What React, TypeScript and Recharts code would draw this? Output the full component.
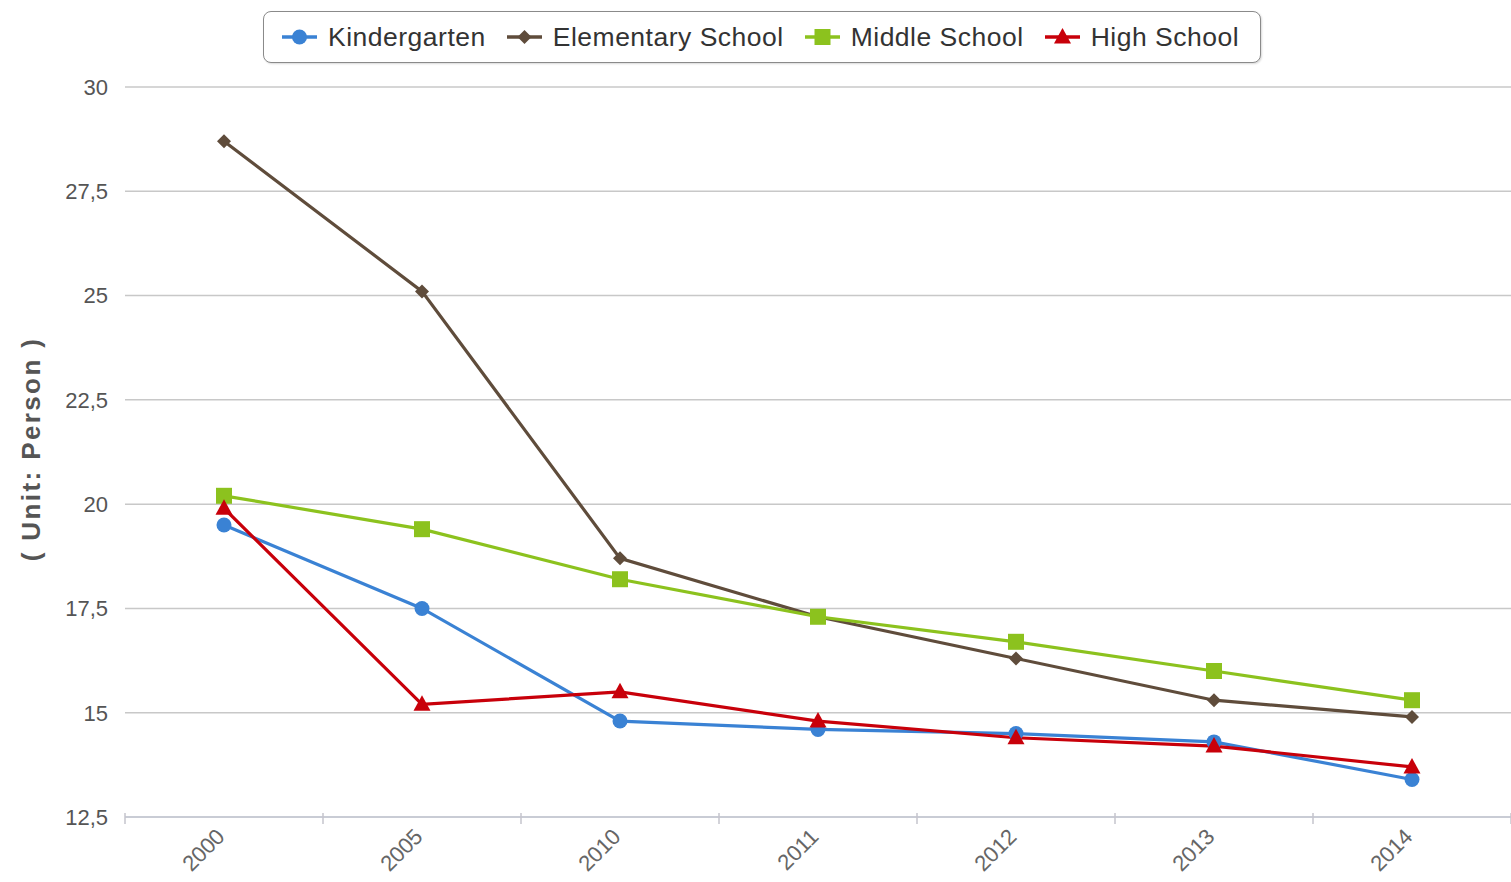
import { CartesianGrid, Legend, Line, LineChart, XAxis, YAxis } from 'recharts';

const years = ['2000', '2005', '2010', '2011', '2012', '2013', '2014'];
const kindergarten = [19.5, 17.5, 14.8, 14.6, 14.5, 14.3, 13.4];
const elementary = [28.7, 25.1, 18.7, 17.3, 16.3, 15.3, 14.9];
const middle = [20.2, 19.4, 18.2, 17.3, 16.7, 16.0, 15.3];
const high = [19.9, 15.2, 15.5, 14.8, 14.4, 14.2, 13.7];
const yTicks = [12.5, 15, 17.5, 20, 22.5, 25, 27.5, 30];

type Shape = 'circle' | 'diamond' | 'square' | 'triangle';

const series: { key: string; name: string; color: string; shape: Shape }[] = [
  { key: 'kindergarten', name: 'Kindergarten', color: '#3a82d4', shape: 'circle' },
  { key: 'elementary', name: 'Elementary School', color: '#5f4c3b', shape: 'diamond' },
  { key: 'middle', name: 'Middle School', color: '#8cc21e', shape: 'square' },
  { key: 'high', name: 'High School', color: '#c8000a', shape: 'triangle' },
];

const rows = years.map((year, i) => ({
  year,
  kindergarten: kindergarten[i],
  elementary: elementary[i],
  middle: middle[i],
  high: high[i],
}));

const FONT = "'Liberation Sans', Arial, sans-serif";
const TEXT = '#555';
const TICK_MARK = '#c4c4cc';

function Marker({ shape, cx, cy, color }: { shape: Shape; cx: number; cy: number; color: string }) {
  if (shape === 'circle') return <circle cx={cx} cy={cy} r={7.5} fill={color} />;
  if (shape === 'square') return <rect x={cx - 8} y={cy - 8} width={16} height={16} fill={color} />;
  if (shape === 'diamond') {
    const d = 7;
    return <polygon points={`${cx},${cy - d} ${cx + d},${cy} ${cx},${cy + d} ${cx - d},${cy}`} fill={color} />;
  }
  return <polygon points={`${cx},${cy - 9} ${cx + 8.5},${cy + 6.5} ${cx - 8.5},${cy + 6.5}`} fill={color} />;
}

// year label plus a tick mark on the band edges (Highcharts-style "between" ticks)
function YearTick({ x, y, payload, index, width, visibleTicksCount }: any) {
  const half = payload?.offset || (width && visibleTicksCount ? width / (2 * visibleTicksCount) : 0);
  const ax = x + 2;
  const ay = y + 21;
  return (
    <g>
      {index === 0 && <line x1={x - half} x2={x - half} y1={y - 4} y2={y + 7} stroke={TICK_MARK} strokeWidth={1.5} />}
      <line x1={x + half} x2={x + half} y1={y - 4} y2={y + 7} stroke={TICK_MARK} strokeWidth={1.5} />
      <text x={ax} y={ay} transform={`rotate(-45, ${ax}, ${ay})`} textAnchor="end" fill="#666" fontSize={22} fontFamily={FONT}>
        {payload.value}
      </text>
    </g>
  );
}

function LegendBox() {
  return (
    <div
      style={{
        display: 'flex',
        alignItems: 'center',
        height: 52,
        boxSizing: 'border-box',
        border: '1.5px solid #8a8a8a',
        borderRadius: 8,
        padding: '0 0 0 18px',
        background: '#fff',
        boxShadow: '1px 1px 2px rgba(0,0,0,0.15)',
        fontFamily: FONT,
        fontSize: 26.5,
        letterSpacing: 0.5,
        color: '#333',
      }}
    >
      {series.map((s) => (
        <div key={s.key} style={{ display: 'flex', alignItems: 'center', marginRight: 21 }}>
          <svg width={35} height={20}>
            <line x1={0} y1={10} x2={35} y2={10} stroke={s.color} strokeWidth={3.5} />
            <Marker shape={s.shape} cx={17.5} cy={10} color={s.color} />
          </svg>
          <span style={{ marginLeft: 11 }}>{s.name}</span>
        </div>
      ))}
    </div>
  );
}

export default function App() {
  return (
    <div style={{ position: 'absolute', left: 0, top: 0, background: '#fff' }}>
      <LineChart width={1511} height={882} data={rows} margin={{ top: 87, right: 0, bottom: 0, left: 0 }}>
        <CartesianGrid vertical={false} stroke="#c8c8c8" strokeWidth={1.5} />
        <XAxis
          dataKey="year"
          scale="band"
          height={65}
          tickSize={0}
          tickMargin={0}
          tickLine={false}
          axisLine={{ stroke: '#c4c8d4', strokeWidth: 1.5 }}
          tick={<YearTick />}
          interval={0}
        />
        <YAxis
          width={125}
          domain={[12.5, 30]}
          ticks={yTicks}
          allowDataOverflow
          tickLine={false}
          tickSize={0}
          tickMargin={17}
          axisLine={false}
          tickFormatter={(v: number) => String(v).replace('.', ',')}
          tick={{ fill: TEXT, fontSize: 22, fontFamily: FONT }}
          label={{
            content: ({ viewBox }: any) => {
              const lx = viewBox.x + 31;
              const ly = viewBox.y + viewBox.height / 2 - 3;
              return (
                <text
                  x={lx}
                  y={ly}
                  transform={`rotate(-90, ${lx}, ${ly})`}
                  textAnchor="middle"
                  dominantBaseline="central"
                  fill={TEXT}
                  fontSize={26}
                  fontWeight="bold"
                  letterSpacing={2.4}
                  fontFamily={FONT}
                >
                  ( Unit: Person )
                </text>
              );
            },
          }}
        />
        <Legend
          layout="horizontal"
          align="center"
          verticalAlign="middle"
          wrapperStyle={{ top: 11, left: 263, width: 'auto' }}
          content={() => <LegendBox />}
        />
        {series.map((s) => (
          <Line
            key={s.key}
            dataKey={s.key}
            name={s.name}
            stroke={s.color}
            strokeWidth={3.2}
            isAnimationActive={false}
            dot={(p: any) => <Marker key={`${s.key}-${p.index}`} shape={s.shape} cx={p.cx} cy={p.cy} color={s.color} />}
            activeDot={false}
          />
        ))}
      </LineChart>
    </div>
  );
}
